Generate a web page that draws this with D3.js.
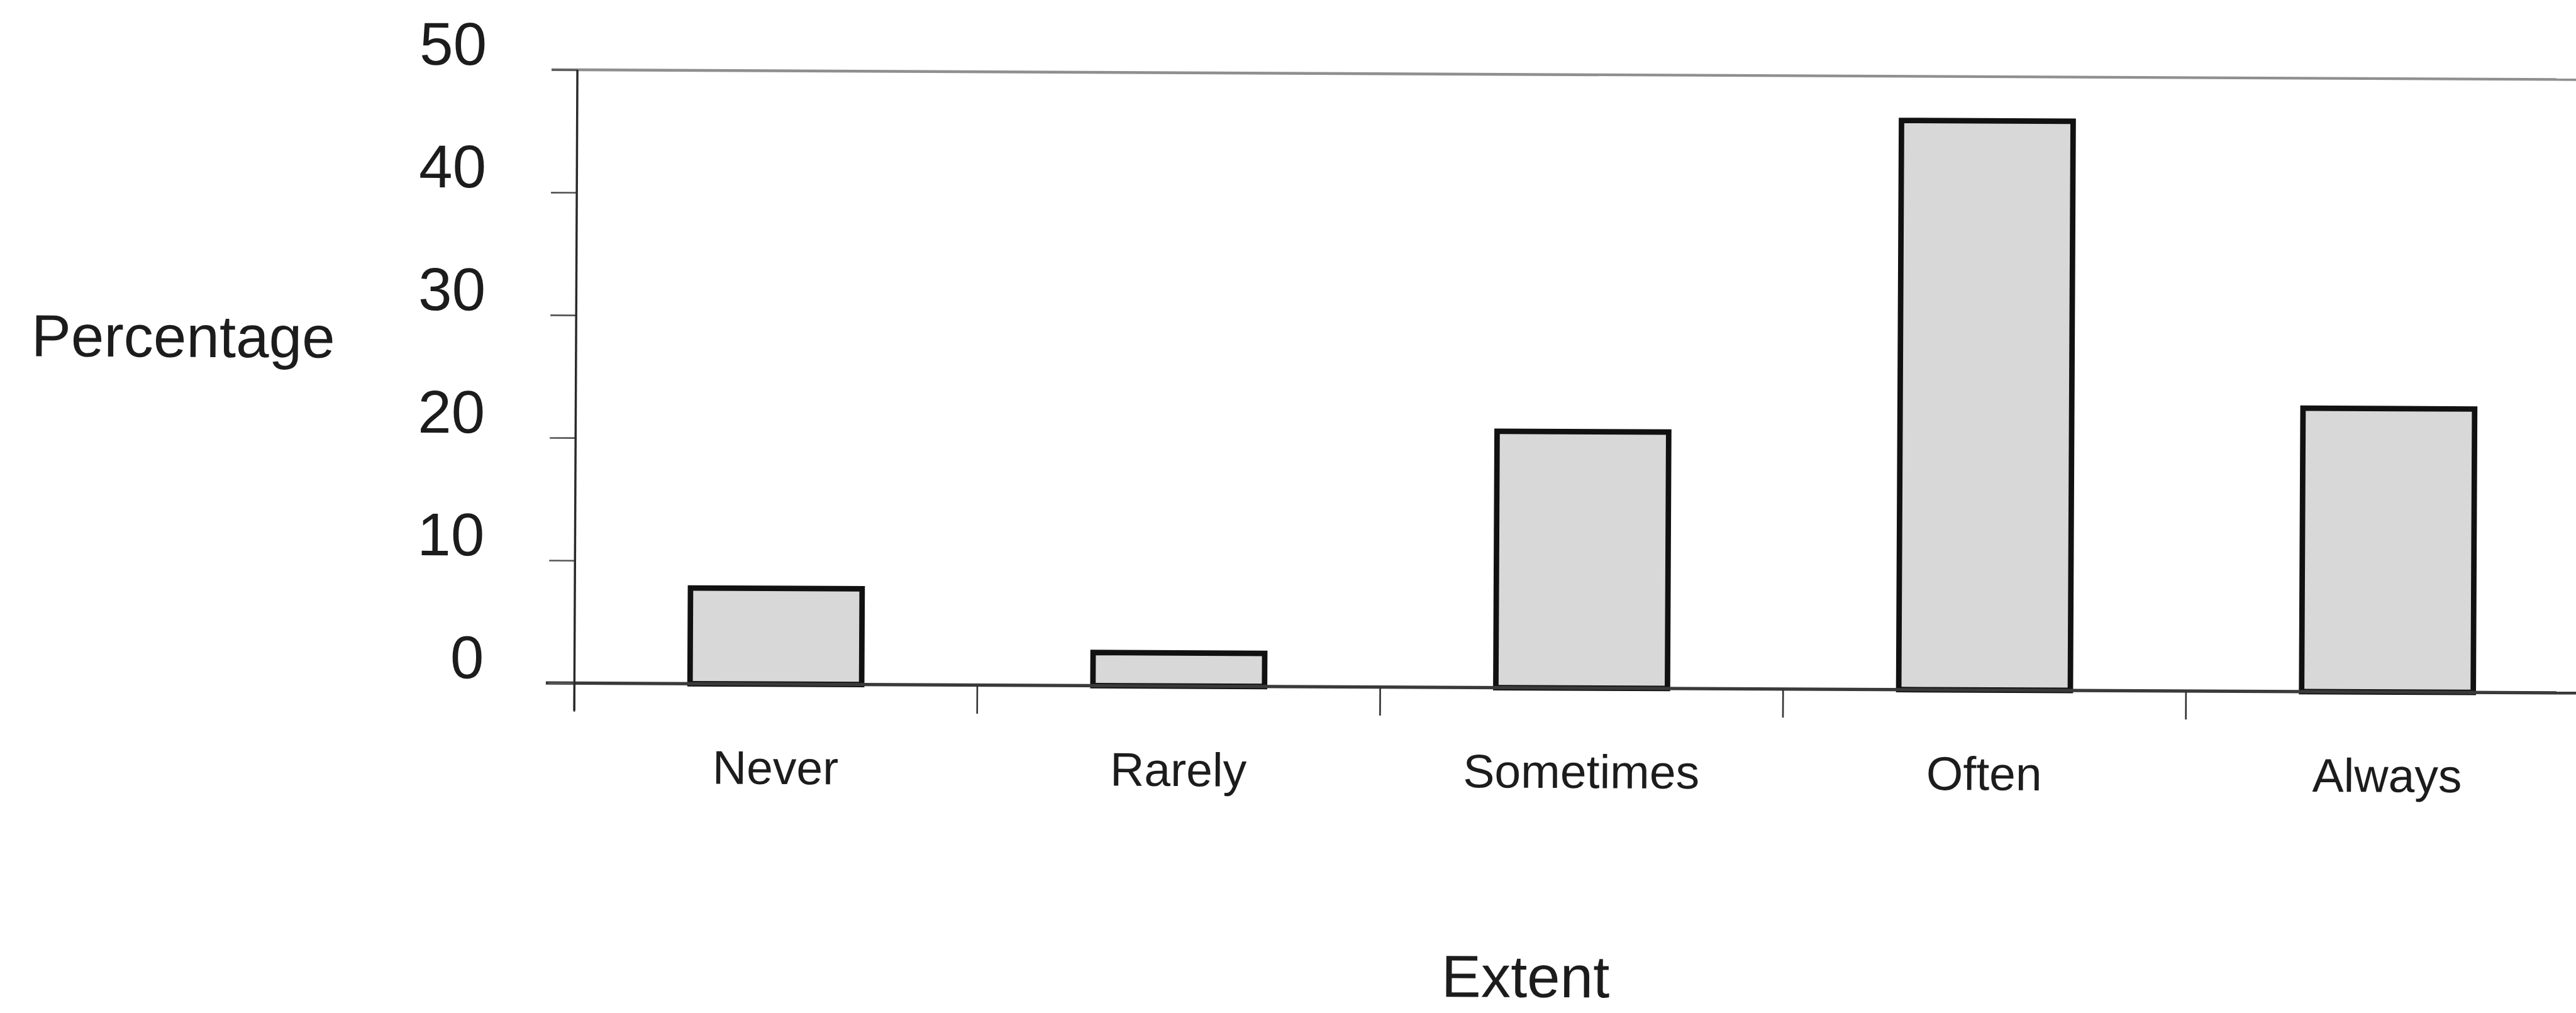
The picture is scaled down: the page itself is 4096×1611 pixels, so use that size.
<!DOCTYPE html>
<html>
<head>
<meta charset="utf-8">
<script src="https://cdn.jsdelivr.net/npm/d3@7/dist/d3.min.js"></script>
<style>
  html, body { margin: 0; padding: 0; background: #fff; overflow: hidden; }
  svg { display: block; }
  text { font-family: "Liberation Sans", Arial, sans-serif; fill: #1c1c1c; }
</style>
</head>
<body>
<div id="chart"></div>
<script>
// ---- data ----
const categories = ["Never", "Rarely", "Sometimes", "Often", "Always"];
const values = [7.8, 2.7, 20.9, 46.4, 23.1];
const yTicks = [0, 10, 20, 30, 40, 50];
const yTitle = "Percentage";
const xTitle = "Extent";

// ---- layout (reference pixel units, scaled by k) ----
const W = 4096, H = 1611, k = 0.874;
const x0 = 1045, x1 = 4710, yTop = 127, yBase = 1243;

const svg = d3.select("#chart").append("svg")
  .attr("width", W).attr("height", H);
svg.append("rect").attr("width", W).attr("height", H).attr("fill", "#fff");

const g = svg.append("g")
  .attr("transform", `scale(${k}) rotate(0.28, ${x0}, ${yBase})`);

const x = d3.scaleBand().domain(categories).range([x0, x1]).padding(0);
const y = d3.scaleLinear().domain([0, 50]).range([yBase, yTop]);
const barW = x.bandwidth() * 0.426;

// top border line of plot area
g.append("line")
  .attr("x1", x0 - 47).attr("x2", 4900)
  .attr("y1", y(50)).attr("y2", y(50))
  .attr("stroke", "#8f8f8f").attr("stroke-width", 5);

// bars
g.selectAll("rect.bar").data(values).join("rect")
  .attr("class", "bar")
  .attr("x", (d, i) => x(categories[i]) + x.bandwidth() / 2 - barW / 2)
  .attr("width", barW)
  .attr("y", d => y(d))
  .attr("height", d => y(0) - y(d))
  .attr("fill", "#d8d8d8")
  .attr("stroke", "#111")
  .attr("stroke-width", 10);

// x baseline
g.append("line")
  .attr("x1", x0 - 52).attr("x2", 4900)
  .attr("y1", y(0)).attr("y2", y(0))
  .attr("stroke", "#3a3a3a").attr("stroke-width", 6);

// x category boundary ticks
const bounds = categories.map(c => x(c)).concat([x1]);
g.selectAll("line.xt").data(bounds).join("line")
  .attr("class", "xt")
  .attr("x1", d => d).attr("x2", d => d)
  .attr("y1", y(0)).attr("y2", y(0) + 52)
  .attr("stroke", "#333").attr("stroke-width", 3);

// y axis
const yAxis = d3.axisLeft(y).tickValues(yTicks).tickSize(47).tickPadding(0).tickFormat("");
const ya = g.append("g").attr("transform", `translate(${x0},0)`).call(yAxis);
ya.select(".domain").remove();
ya.selectAll(".tick line").attr("stroke", "#555").attr("stroke-width", 3);
g.append("line")
  .attr("x1", x0).attr("x2", x0)
  .attr("y1", y(50)).attr("y2", y(0) + 50)
  .attr("stroke", "#2a2a2a").attr("stroke-width", 4);

// y tick labels (sit just above each tick)
g.selectAll("text.yl").data(yTicks).join("text")
  .attr("class", "yl")
  .attr("x", 880)
  .attr("y", d => y(d) - 8)
  .attr("text-anchor", "end")
  .attr("font-size", 110)
  .text(d => d);

// category labels
g.selectAll("text.xl").data(categories).join("text")
  .attr("class", "xl")
  .attr("x", d => x(d) + x.bandwidth() / 2)
  .attr("y", 1425)
  .attr("text-anchor", "middle")
  .attr("font-size", 86)
  .text(d => d);

// axis titles
g.append("text")
  .attr("x", 54).attr("y", 653)
  .attr("font-size", 108)
  .text(yTitle);

g.append("text")
  .attr("x", 2778).attr("y", 1806)
  .attr("text-anchor", "middle")
  .attr("font-size", 108)
  .text(xTitle);
</script>
</body>
</html>
